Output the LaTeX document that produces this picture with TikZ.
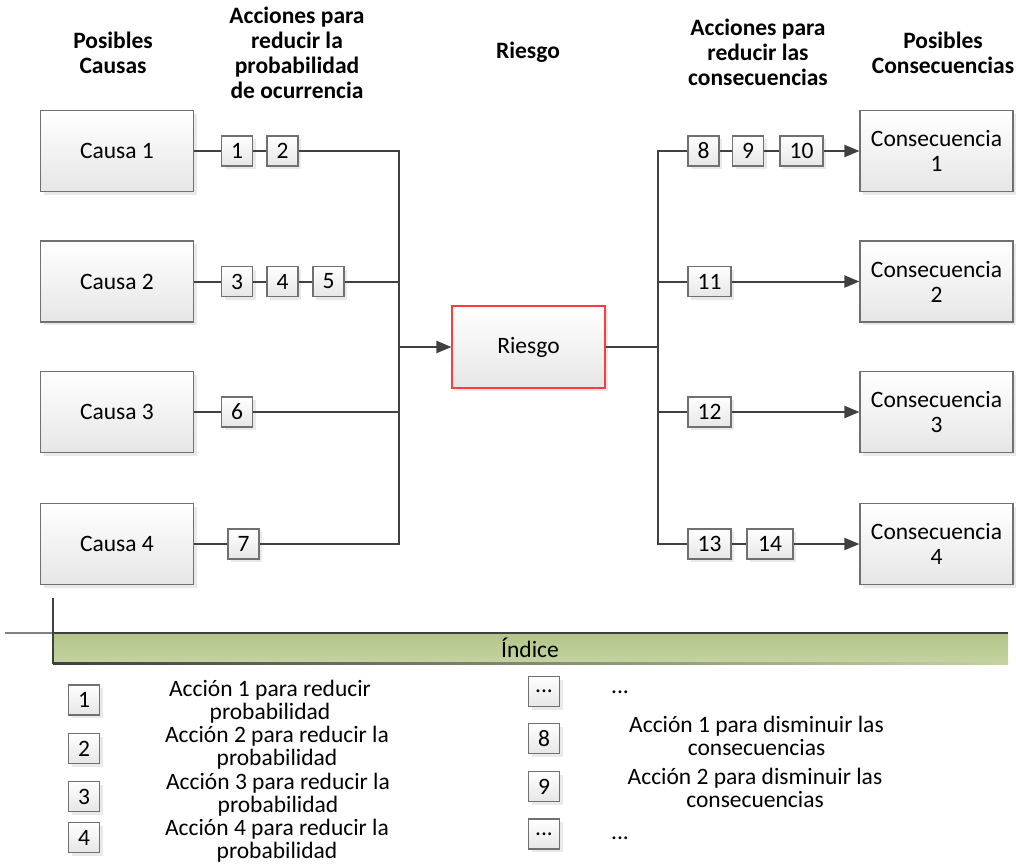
\documentclass[tikz,border=0pt]{standalone}
\usepackage{fontspec}
\setmainfont{Carlito}
\usetikzlibrary{arrows.meta,shadows}
\definecolor{wirec}{HTML}{404040}
\definecolor{edgec}{HTML}{707070}
\definecolor{boxbot}{HTML}{E6E6E6}
\definecolor{shadowc}{HTML}{D4D4D4}
\definecolor{riskedge}{HTML}{FF3B3B}
\definecolor{bandtop}{HTML}{B3C588}
\definecolor{bandbot}{HTML}{C4D3A2}
\begin{document}
\begin{tikzpicture}[x=1pt,y=-1pt,
  txt/.style={font=\fontsize{23.5}{25}\selectfont, align=center, inner sep=0pt},
  legtxt/.style={font=\fontsize{23.5}{23}\selectfont, align=center, inner sep=0pt},
  hdr/.style={font=\bfseries\fontsize{23.5}{25}\selectfont, align=center, inner sep=0pt},
  boxbase/.style={txt, draw=edgec, line width=1.1pt, top color=white, bottom color=boxbot,
    drop shadow={shadow xshift=3pt, shadow yshift=-3pt, fill=shadowc, draw=none}},
  bigbox/.style={boxbase, minimum width=153pt, minimum height=81pt},
  numbox/.style={boxbase, minimum width=31pt, minimum height=30pt},
  widebox/.style={numbox, minimum width=43pt},
  wire/.style={draw=wirec, line width=2pt},
  flow/.style={wire, -{Triangle[length=15pt,width=12pt]}}]
\useasboundingbox (0,0) rectangle (1016,865);

% column headings
\node[hdr] (h1) at (113,52.5) {Posibles\\Causas};
\node[hdr] (h2) at (297,52.5) {Acciones para\\reducir la\\probabilidad\\de ocurrencia};
\node[hdr] (h3) at (528,52) {Riesgo};
\node[hdr] (h4) at (758,52) {Acciones para\\reducir las\\consecuencias};
\node[hdr] (h5) at (943,52.5) {Posibles\\Consecuencias};

% causes
\node[bigbox] (c1) at (117,151) {Causa 1};
\node[bigbox] (c2) at (117,281.5) {Causa 2};
\node[bigbox] (c3) at (117,412) {Causa 3};
\node[bigbox] (c4) at (117,544) {Causa 4};

% risk
\node[bigbox, draw=riskedge, minimum height=82pt] (risk) at (528.5,347) {Riesgo};

% consequences
\node[bigbox] (q1) at (936.5,151) {Consecuencia\\1};
\node[bigbox] (q2) at (936.5,281.5) {Consecuencia\\2};
\node[bigbox] (q3) at (936.5,412) {Consecuencia\\3};
\node[bigbox] (q4) at (936.5,544) {Consecuencia\\4};

% actions on probability
\node[numbox] (a1) at (237,151) {1};
\node[numbox] (a2) at (282.5,151) {2};
\node[numbox] (a3) at (237,281.5) {3};
\node[numbox] (a4) at (282.5,281.5) {4};
\node[numbox] (a5) at (328.5,281.5) {5};
\node[numbox] (a6) at (237,412) {6};
\node[numbox] (a7) at (243.5,544) {7};

% actions on consequences
\node[numbox] (b8) at (703.5,151) {8};
\node[numbox] (b9) at (748,151) {9};
\node[widebox] (b10) at (801.5,151) {10};
\node[widebox] (b11) at (709.5,281.5) {11};
\node[widebox] (b12) at (709.5,412) {12};
\node[widebox] (b13) at (709.5,544) {13};
\node[widebox, minimum width=46pt] (b14) at (770,544) {14};

% junctions
\coordinate (jl) at (399,347);
\coordinate (jr) at (658,347);

% left side wiring
\draw[wire] (c1) -- (a1) -- (a2);
\draw[wire] (a2) -| (jl);
\draw[wire] (c2) -- (a3) -- (a4) -- (a5);
\draw[wire] (a5) -| (jl);
\draw[wire] (c3) -- (a6);
\draw[wire] (a6) -| (jl);
\draw[wire] (c4) -- (a7);
\draw[wire] (a7) -| (jl);
\draw[flow] (jl) -- (risk);

% right side wiring
\draw[wire] (risk) -- (jr);
\draw[wire] (jr) |- (b8);
\draw[wire] (jr) |- (b11);
\draw[wire] (jr) |- (b12);
\draw[wire] (jr) |- (b13);
\draw[wire] (b8) -- (b9) -- (b10);
\draw[wire] (b13) -- (b14);
\draw[flow] (b10) -- (q1);
\draw[flow] (b11) -- (q2);
\draw[flow] (b12) -- (q3);
\draw[flow] (b14) -- (q4);

% index band
\shade[top color=bandtop, bottom color=bandbot] (53,633) rectangle (1008,663);
\shade[left color=wirec, right color=bandbot] (53,662) rectangle (1008,664);
\coordinate (bl) at (5,633);
\coordinate (br) at (1008,633);
\coordinate (vt) at (53,598);
\coordinate (vb) at (53,664);
\draw[draw=gray, line width=1.6pt] (bl) -- (br);
\draw[wire] (vt |- bl) -- (br);
\draw[wire] (vt) -- (vb);
\node[txt] (idx) at (530,648) {Índice};

% index entries
\node[numbox] (l1) at (84,700) {1};
\node[numbox] (l2) at (84,748.5) {2};
\node[numbox] (l3) at (84,796.5) {3};
\node[numbox] (l4) at (84,837.5) {4};
\node[numbox] (m1) at (544,691.5) {...};
\node[numbox] (m8) at (544,738.5) {8};
\node[numbox] (m9) at (544,786.5) {9};
\node[numbox] (m2) at (544,834) {...};

\node[legtxt] (t1) at (270,701.5) {Acción 1 para reducir\\probabilidad};
\node[legtxt] (t2) at (277,748) {Acción 2 para reducir la\\probabilidad};
\node[legtxt] (t3) at (278,794.5) {Acción 3 para reducir la\\probabilidad};
\node[legtxt] (t4) at (277,840.5) {Acción 4 para reducir la\\probabilidad};
\node[legtxt] (u1) at (620,692) {...};
\node[legtxt] (u8) at (756.5,736) {Acción 1 para disminuir las\\consecuencias};
\node[legtxt] (u9) at (755,788) {Acción 2 para disminuir las\\consecuencias};
\node[legtxt] (u2) at (620,838) {...};
\end{tikzpicture}
\end{document}
